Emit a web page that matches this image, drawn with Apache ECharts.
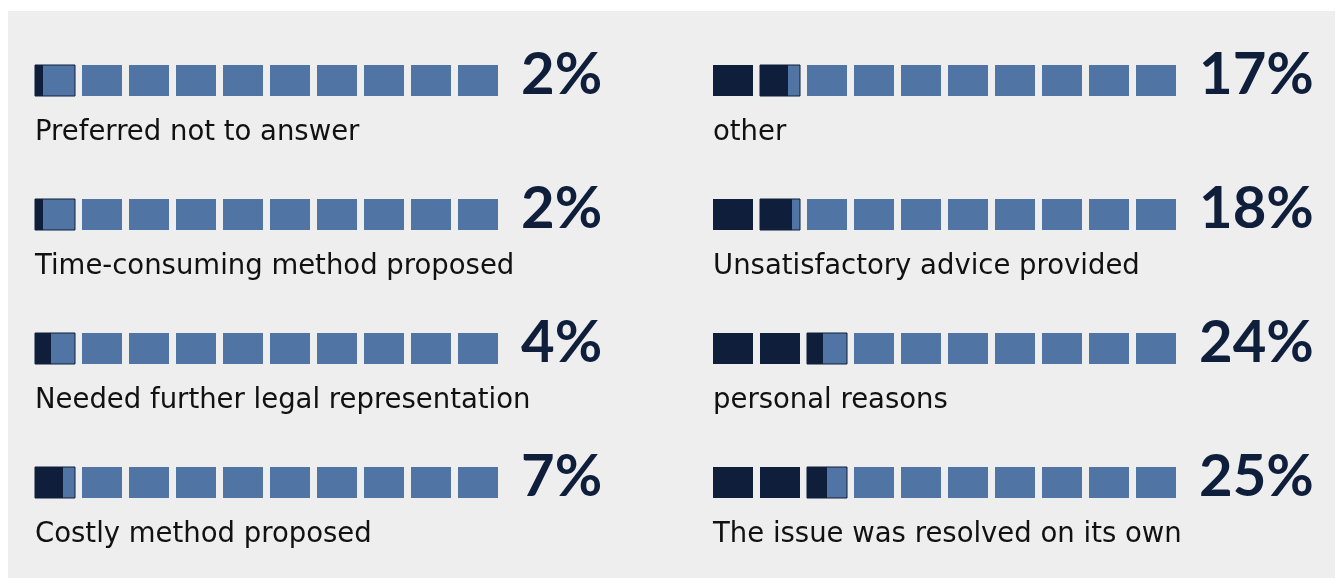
<!DOCTYPE html>
<html>
<head>
<meta charset="utf-8">
<script src="https://cdn.jsdelivr.net/npm/echarts@6/dist/echarts.min.js"></script>
<style>
html,body{margin:0;padding:0;background:#ffffff;}
#chart{width:1343px;height:581px;}
</style>
</head>
<body>
<div id="chart"></div>
<script>
// ---- data ----
var leftCategories = ["Preferred not to answer", "Time-consuming method proposed", "Needed further legal representation", "Costly method proposed"];
var leftValues = [2, 2, 4, 7];
var rightCategories = ["other", "Unsatisfactory advice provided", "personal reasons", "The issue was resolved on its own"];
var rightValues = [17, 18, 24, 25];

var DARK = '#0f1f3b';
var LIGHT = '#5075a5';
var CELLS = 10;
var CELL_UNITS = 100 / CELLS;
var CELL_FILL = 40 / 47;   // share of each step covered by a square
var SQ_H = 31;

function makeRender(categories) {
  return function (params, api) {
    var v = api.value(0);
    var row = api.value(1);
    var children = [];
    var center = api.coord([0, row]);
    var yTop = center[1] - SQ_H / 2;
    for (var i = 0; i < CELLS; i++) {
      var a = api.coord([i * CELL_UNITS, row])[0];
      var b = api.coord([(i + CELL_FILL) * CELL_UNITS, row])[0];
      var w = b - a;
      var frac = Math.max(0, Math.min(1, (v - i * CELL_UNITS) / CELL_UNITS));
      var partial = frac > 0 && frac < 1;
      children.push({
        type: 'rect',
        shape: { x: a, y: yTop, width: w, height: SQ_H },
        style: partial ? { fill: LIGHT, stroke: DARK, lineWidth: 1 } : { fill: frac >= 1 ? DARK : LIGHT }
      });
      if (partial) {
        children.push({
          type: 'rect',
          shape: { x: a, y: yTop, width: w * frac, height: SQ_H },
          style: { fill: DARK }
        });
      }
    }
    var endX = api.coord([100, row])[0];
    children.push({
      type: 'text',
      style: {
        text: v + '%', x: endX + 16, y: yTop + SQ_H - 21,
        fill: DARK, font: '700 58px Lato', align: 'left', verticalAlign: 'middle'
      }
    });
    children.push({
      type: 'text',
      style: {
        text: categories[row], x: api.coord([0, row])[0], y: yTop + SQ_H + 37,
        fill: '#111111', font: '400 27.5px "DejaVu Sans"', align: 'left', verticalAlign: 'middle'
      }
    });
    return { type: 'group', children: children };
  };
}

function toData(values) {
  return values.map(function (v, i) { return [v, i]; });
}

var chart = echarts.init(document.getElementById('chart'), null, { renderer: 'canvas' });
chart.setOption({
  backgroundColor: '#ffffff',
  animation: false,
  graphic: [{
    type: 'rect', left: 8, top: 11, z: -10,
    shape: { width: 1327, height: 567 },
    style: { fill: '#eeeeee' }
  }],
  grid: [
    { left: 35, width: 470, top: 13.5, height: 536 },
    { left: 713, width: 470, top: 13.5, height: 536 }
  ],
  xAxis: [
    { type: 'value', gridIndex: 0, min: 0, max: 100, show: false },
    { type: 'value', gridIndex: 1, min: 0, max: 100, show: false }
  ],
  yAxis: [
    { type: 'category', gridIndex: 0, data: leftCategories, inverse: true, show: false },
    { type: 'category', gridIndex: 1, data: rightCategories, inverse: true, show: false }
  ],
  series: [
    { type: 'custom', xAxisIndex: 0, yAxisIndex: 0, renderItem: makeRender(leftCategories), data: toData(leftValues), clip: false },
    { type: 'custom', xAxisIndex: 1, yAxisIndex: 1, renderItem: makeRender(rightCategories), data: toData(rightValues), clip: false }
  ]
});
</script>
</body>
</html>
